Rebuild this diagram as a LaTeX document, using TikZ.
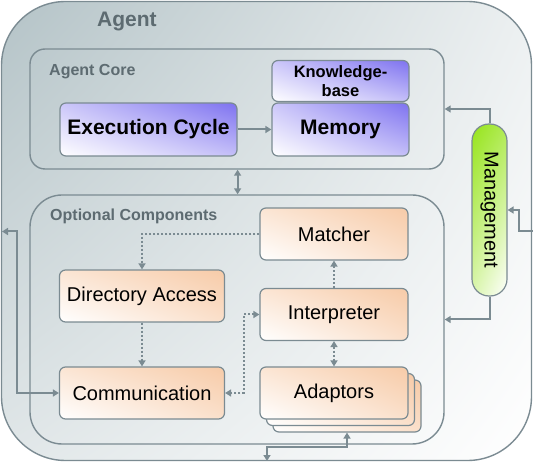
\documentclass[tikz,border=0pt]{standalone}
\usepackage{fontspec}
\setmainfont{Liberation Sans}
\usetikzlibrary{arrows.meta,shadings}

\definecolor{linha}{HTML}{7B8B92}
\definecolor{rotulo}{HTML}{5D6B71}
\definecolor{roxo}{HTML}{7E72F0}
\definecolor{pessego}{HTML}{F7CBA8}
\definecolor{verde}{HTML}{96E41A}
\definecolor{fundo}{HTML}{B4C3C7}

\begin{document}
\begin{tikzpicture}[x=1pt, y=-1pt, >={Triangle[length=6pt,width=7pt]}]

    % --------------------
    % Estilos
    % --------------------
    \tikzset{
        moldura/.style={draw=linha, line width=1.4pt, inner sep=0pt},
        titulo/.style={font=\fontsize{16}{18}\selectfont\bfseries, text=rotulo, anchor=west, inner sep=0pt},
        caixa/.style={draw=linha, line width=1.2pt, rounded corners=6pt, inner sep=0pt, text=black},
        nucleo/.style={caixa, lower left=white, upper right=roxo, upper left=roxo!40!white,
            lower right=roxo!45!white, font=\fontsize{21}{22}\selectfont\bfseries},
        opcional/.style={caixa, lower left=white, upper right=pessego, upper left=pessego!50!white,
            lower right=pessego!60!white, font=\fontsize{20}{22}\selectfont, minimum height=52pt},
        seta/.style={draw=linha, line width=2pt},
        pontilhado/.style={seta, dotted}
    }

    \useasboundingbox (0,0) rectangle (533,462);

    % --------------------
    % Molduras
    % --------------------
    \node[moldura, rounded corners=64pt, minimum width=530pt, minimum height=459pt,
        upper left=fundo, upper right=fundo!25!white, lower left=fundo!40!white, lower right=white]
        (agent) at (266.5,231) {};
    \node[titulo, font=\fontsize{21}{23}\selectfont\bfseries] (agentlbl) at (97,21.5) {Agent};

    \node[moldura, rounded corners=15pt, minimum width=414pt, minimum height=120pt] (core) at (237,109) {};
    \node[titulo] (corelbl) at (49,72) {Agent Core};

    \node[moldura, rounded corners=32pt, minimum width=414pt, minimum height=249pt] (opt) at (237,319.5) {};
    \node[titulo] (optlbl) at (50,216.5) {Optional Components};

    % --------------------
    % Agent Core
    % --------------------
    \node[nucleo, minimum width=177pt, minimum height=53pt] (exec) at (148.5,129.5) {Execution Cycle};
    \node[nucleo, minimum width=137pt, minimum height=53pt] (memory) at (340.5,129.5) {Memory};
    \node[nucleo, minimum width=137pt, minimum height=41pt, align=center,
        font=\fontsize{16.5}{19}\selectfont\bfseries] (kb) at (340.5,81) {Knowledge-\\base};

    % --------------------
    % Management
    % --------------------
    \node[caixa, rounded corners=17pt, minimum width=35pt, minimum height=172pt,
        upper left=verde, upper right=verde!75!white, lower left=verde!35!white, lower right=white]
        (mgmt) at (489.5,210) {};
    \node[rotate=-90, font=\fontsize{20}{22}\selectfont] (mgmttxt) at (mgmt) {Management};

    % --------------------
    % Optional Components
    % --------------------
    \node[opcional, minimum width=148pt] (matcher) at (334,234) {Matcher};
    \node[opcional, minimum width=148pt] (interp) at (334,314.5) {Interpreter};
    \node[opcional, minimum width=148pt] (adapt3) at (347,406) {};
    \node[opcional, minimum width=148pt] (adapt2) at (340.5,399.5) {};
    \node[opcional, minimum width=148pt] (adaptors) at (334,393) {Adaptors};
    \node[opcional, minimum width=165pt] (dir) at (142,296) {Directory Access};
    \node[opcional, minimum width=165pt] (comm) at (142,393) {Communication};

    % --------------------
    % Ligações
    % --------------------
    \coordinate (esq) at (2,231.5);
    \coordinate (dir-ext) at (533,231);
    \coordinate (baixo) at (267,461);

    \draw[seta, ->] (exec) -- (memory);
    \draw[seta, <->] (core.south -| exec.east) -- (opt.north -| exec.east);
    \draw[seta, ->] (mgmt.north) |- (core.east);
    \draw[seta, ->] (mgmt.south) |- (opt.east);
    \draw[seta, ->] (dir-ext) -- (519,231) |- (mgmt.east);
    \draw[seta, <->] (esq) -| (17,393) -- (comm.west);
    \draw[seta, <->] (baixo) -- (267,447) -| (adapt3.south);

    \draw[pontilhado, ->] (matcher.west) -| (dir.north);
    \draw[pontilhado, ->] (dir.south) -- (comm.north);
    \draw[pontilhado, ->] (interp.north) -- (matcher.south);
    \draw[pontilhado, <->] (interp.south) -- (adaptors.north);
    \draw[pontilhado, <->] (interp.west) -- (243.5,314.5) |- (comm.east);

\end{tikzpicture}
\end{document}
